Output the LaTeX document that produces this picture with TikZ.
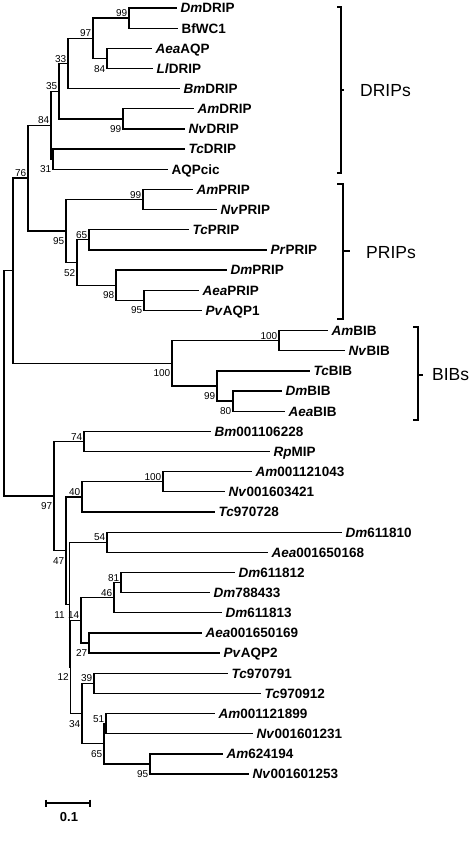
\documentclass[tikz,border=0pt]{standalone}
\usepackage{fontspec}
\setmainfont{Liberation Sans}
\usetikzlibrary{calc}
\newcommand{\species}[1]{\textit{#1}}
% internal node: name, x, upper child, lower child, bootstrap, label style
\newcommand{\clade}[6]{%
  \path ($(#3)!.5!(#4)$) coordinate (#1-m);
  \coordinate (#1) at (#2,0 |- #1-m);
  \draw[branch] (#1) |- (#3) (#1) |- (#4);
  \node[#6] (#1-bs) at (#1) {#5};}
\tikzset{
  branch/.style={line width=1.3pt},
  tip/.style={anchor=west, inner xsep=3.5pt, inner ysep=0pt,
              text height=9.7pt, text depth=0pt,
              font=\fontsize{13.5}{14}\selectfont\bfseries},
  bsa/.style={anchor=east, inner xsep=1.5pt, inner ysep=0pt,
              text height=7.2pt, text depth=0pt,
              font=\fontsize{10}{10}\selectfont, yshift=5pt},
  bsb/.style={anchor=east, inner xsep=1.5pt, inner ysep=0pt,
              text height=7.2pt, text depth=0pt,
              font=\fontsize{10}{10}\selectfont, yshift=-10pt},
  bracket/.style={line width=2.3pt},
  group/.style={anchor=west, inner sep=0pt, font=\fontsize{17.5}{18}\selectfont},
}

\begin{document}
\begin{tikzpicture}[x=1pt,y=-1pt]
  \useasboundingbox (0,0) rectangle (474,867);
  % leaves, one row each
  \foreach \i/\x/\lab in {
      0/177/\species{Dm}DRIP, 1/178/BfWC1, 2/152/\species{Aea}AQP,
      3/153/\species{Ll}DRIP, 4/180/\species{Bm}DRIP, 5/194/\species{Am}DRIP,
      6/185/\species{Nv}DRIP, 7/185/\species{Tc}DRIP, 8/168/AQPcic,
      9/193/\species{Am}PRIP, 10/217/\species{Nv}PRIP, 11/189/\species{Tc}PRIP,
      12/267/\species{Pr}PRIP, 13/227/\species{Dm}PRIP, 14/199/\species{Aea}PRIP,
      15/202/\species{Pv}AQP1, 16/328/\species{Am}BIB, 17/345/\species{Nv}BIB,
      18/310/\species{Tc}BIB, 19/282/\species{Dm}BIB, 20/285/\species{Aea}BIB,
      21/211/\species{Bm}001106228, 22/270/\species{Rp}MIP,
      23/252/\species{Am}001121043, 24/225/\species{Nv}001603421,
      25/215/\species{Tc}970728, 26/342/\species{Dm}611810,
      27/268/\species{Aea}001650168, 28/235/\species{Dm}611812,
      29/210/\species{Dm}788433, 30/222/\species{Dm}611813,
      31/202/\species{Aea}001650169, 32/220/\species{Pv}AQP2,
      33/228/\species{Tc}970791, 34/261/\species{Tc}970912,
      35/215/\species{Am}001121899, 36/253/\species{Nv}001601231,
      37/223/\species{Am}624194, 38/249/\species{Nv}001601253}
    \node[tip] (t\i) at (\x,{8+20.16*\i}) {\lab};

  % DRIPs
  \clade{n99a}{129}{t0.west}{t1.west}{99}{bsa}
  \clade{n84a}{107}{t2.west}{t3.west}{84}{bsb}
  \clade{n97}{93}{n99a}{n84a}{97}{bsa}
  \clade{n33}{68}{n97}{t4.west}{33}{bsa}
  \clade{n99b}{123}{t5.west}{t6.west}{99}{bsb}
  \clade{n35}{59}{n33}{n99b}{35}{bsa}
  \clade{n31}{53}{t7.west}{t8.west}{31}{bsb}
  \clade{n84b}{51}{n35}{n31}{84}{bsa}
  % PRIPs
  \clade{p99}{143}{t9.west}{t10.west}{99}{bsa}
  \clade{p65}{89}{t11.west}{t12.west}{65}{bsa}
  \clade{p95b}{144}{t14.west}{t15.west}{95}{bsb}
  \clade{p98}{116}{t13.west}{p95b}{98}{bsb}
  \clade{p52}{77}{p65}{p98}{52}{bsb}
  \clade{p95}{66}{p99}{p52}{95}{bsb}
  \clade{n76}{28}{n84b}{p95}{76}{bsa}
  % BIBs
  \clade{b100a}{279}{t16.west}{t17.west}{100}{bsa}
  \clade{b80}{233}{t19.west}{t20.west}{80}{bsb}
  \clade{b99}{217}{t18.west}{b80}{99}{bsb}
  \clade{b100}{172}{b100a}{b99}{100}{bsb}
  \path ($(n76)!.5!(b100)$) coordinate (nr-m);
  \coordinate (nr) at (13,0 |- nr-m);
  \draw[branch] (nr) |- (n76) (nr) |- (b100);
  % other MIPs
  \clade{l74}{84}{t21.west}{t22.west}{74}{bsa}
  \clade{l100}{163}{t23.west}{t24.west}{100}{bsa}
  \clade{l40}{82}{l100}{t25.west}{40}{bsa}
  \clade{l54}{107}{t26.west}{t27.west}{54}{bsa}
  \clade{l81}{121}{t28.west}{t29.west}{81}{bsa}
  \clade{l46}{114}{l81}{t30.west}{46}{bsa}
  \clade{l27}{89}{t31.west}{t32.west}{27}{bsb}
  \clade{l14}{81}{l46}{l27}{14}{bsa}
  \clade{l39}{94}{t33.west}{t34.west}{39}{bsa}
  \clade{l51}{106}{t35.west}{t36.west}{51}{bsa}
  \clade{l95}{150}{t37.west}{t38.west}{95}{bsb}
  \clade{l65}{104}{l51}{l95}{65}{bsb}
  \clade{l34}{82}{l39}{l65}{34}{bsb}
  \clade{l12}{70.5}{l14}{l34}{12}{bsb}
  \clade{l11}{69.5}{l54}{l12}{11}{bsb,xshift=-3pt}
  \clade{l47}{66}{l40}{l11}{47}{bsb}
  \clade{l97}{54}{l74}{l47}{97}{bsb}
  \path ($(nr)!.5!(l97)$) coordinate (root-m);
  \coordinate (root) at (4,0 |- root-m);
  \draw[branch] (root) |- (nr) (root) |- (l97);

  % groups
  \draw[bracket] (337,7) -- (341,7) -- (341,173) -- (337,173);
  \draw[bracket] (341,90) -- (344,90);
  \node[group] (drips) at (360,91) {DRIPs};
  \draw[bracket] (337,184) -- (343,184) -- (343,319) -- (337,319);
  \draw[bracket] (343,251) -- (350,251);
  \node[group] (prips) at (366,253) {PRIPs};
  \draw[bracket] (413,327) -- (418,327) -- (418,420) -- (413,420);
  \draw[bracket] (418,375) -- (423,375);
  \node[group] (bibs) at (432,375) {BIBs};

  % scale
  \draw[line width=1.4pt] (46,803) -- (90,803) (46,799.5) -- (46,806.5) (90,799.5) -- (90,806.5);
  \node[font=\fontsize{13}{13}\selectfont\bfseries] (scale) at (69,817) {0.1};
\end{tikzpicture}
\end{document}
